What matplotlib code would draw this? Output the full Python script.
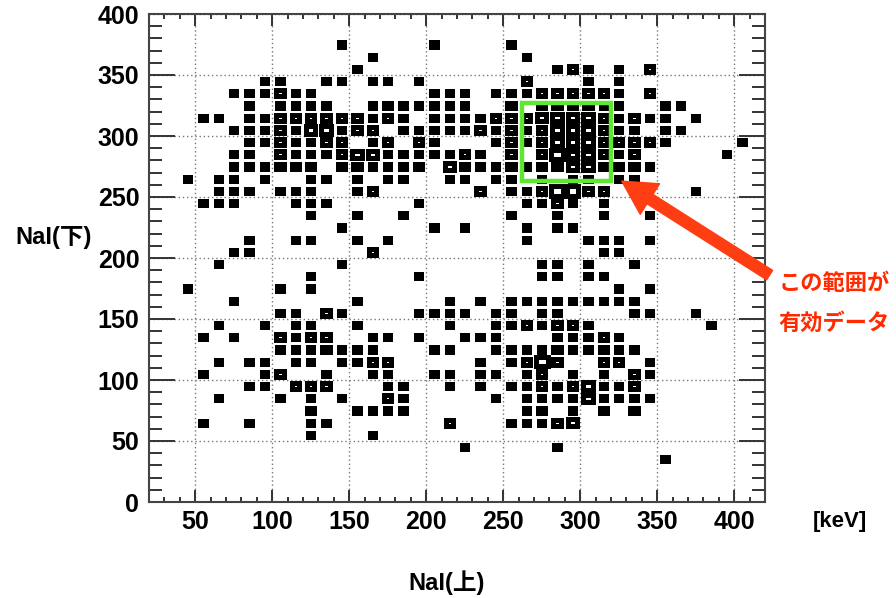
import numpy as np
import matplotlib.pyplot as plt
from matplotlib.patches import Rectangle

plt.rcParams['font.family'] = ['Liberation Sans', 'Noto Sans CJK JP']
plt.rcParams['font.weight'] = 'bold'

# bin centres (keV) of NaI(upper) hits, one row per NaI(lower) bin; repeats = count
row_y = [375, 365, 355, 345, 335, 325, 315, 305, 295, 285, 275, 265, 255, 245,
         235, 225, 215, 205, 195, 185, 175, 165, 155, 145, 135, 125, 115, 105,
         95, 85, 75, 65, 55, 45, 35]
row_x = [
    [145, 205, 255],
    [165, 265],
    [155, 285, 295, 295, 305, 325, 345, 345],
    [95, 105, 135, 145, 165, 175, 195, 265, 265, 305, 325],
    [75, 85, 95, 105, 105, 115, 125, 205, 215, 225, 245, 255, 265, 275, 275, 285, 285,
     295, 295, 305, 305, 315, 315, 325, 345, 345],
    [85, 105, 115, 125, 135, 165, 175, 175, 185, 195, 205, 215, 225, 255, 255, 275, 275,
     285, 285, 295, 295, 305, 305, 315, 325, 355, 365],
    [55, 65, 85, 95, 105, 105, 115, 115, 125, 125, 135, 135, 145, 145, 155, 155, 165,
     175, 175, 185, 205, 215, 225, 235, 245, 245, 255, 255, 265, 265, 275, 275, 275,
     285, 285, 285, 295, 295, 295, 305, 305, 305, 315, 315, 325, 335, 335, 345, 355, 375],
    [75, 85, 95, 105, 105, 115, 125, 125, 125, 135, 135, 135, 145, 155, 155, 165, 165,
     185, 195, 205, 215, 225, 235, 235, 245, 255, 255, 265, 275, 275, 285, 285, 285,
     295, 295, 295, 305, 305, 305, 315, 315, 325, 335, 355, 365],
    [85, 95, 105, 105, 115, 125, 135, 135, 145, 145, 165, 175, 175, 195, 195, 205, 245,
     255, 255, 265, 275, 275, 285, 285, 285, 295, 295, 295, 305, 305, 305, 315, 315,
     325, 325, 335, 335, 345, 345, 355, 405],
    [75, 85, 105, 105, 115, 125, 135, 145, 145, 155, 155, 155, 165, 165, 165, 175, 185,
     195, 205, 215, 225, 225, 235, 255, 255, 275, 275, 285, 285, 285, 285, 295, 295,
     295, 305, 305, 305, 315, 315, 325, 335, 335, 395],
    [75, 85, 95, 105, 105, 115, 115, 125, 125, 145, 145, 155, 155, 165, 175, 185, 195,
     195, 215, 215, 215, 225, 225, 235, 245, 255, 255, 265, 275, 275, 285, 285, 295,
     295, 295, 305, 305, 305, 315, 315, 325, 325, 335, 335, 345],
    [45, 65, 75, 95, 125, 135, 155, 175, 185, 215, 225, 245, 255, 275, 295, 305, 325, 335],
    [65, 75, 85, 105, 115, 125, 155, 165, 165, 235, 235, 255, 265, 275, 275, 285, 285,
     285, 285, 295, 295, 295, 295, 305, 305, 315, 315, 375],
    [55, 65, 75, 115, 125, 135, 195, 265, 275, 285, 285, 295, 315],
    [125, 155, 185, 255, 285, 315, 345],
    [145, 205, 225, 265, 285, 295],
    [85, 115, 125, 155, 175, 265, 305, 315, 325, 345],
    [75, 85, 165, 165, 315, 325],
    [65, 145, 275, 285, 305, 335],
    [125, 195, 275, 285, 305, 315],
    [45, 105, 125, 325, 345],
    [75, 155, 215, 235, 255, 265, 275, 285, 295, 305, 315, 325, 335],
    [105, 115, 135, 135, 145, 195, 205, 215, 225, 245, 255, 275, 285, 335, 345, 375],
    [65, 95, 115, 125, 155, 215, 245, 255, 265, 265, 275, 285, 285, 295, 295, 305, 385],
    [55, 75, 105, 105, 115, 125, 125, 135, 135, 165, 175, 195, 225, 235, 245, 285, 295,
     305, 315, 315, 325],
    [105, 115, 125, 135, 135, 145, 155, 165, 205, 215, 245, 255, 265, 275, 285, 285,
     295, 305, 315, 315, 325, 335],
    [65, 85, 95, 115, 125, 145, 155, 165, 165, 175, 175, 235, 255, 265, 265, 275, 275,
     275, 275, 285, 285, 315, 315, 325, 325, 345],
    [55, 95, 105, 105, 135, 165, 175, 205, 215, 235, 245, 265, 275, 275, 295, 315, 335,
     335, 345],
    [85, 95, 115, 115, 125, 125, 135, 135, 175, 185, 215, 235, 255, 265, 275, 275, 285,
     295, 295, 305, 305, 305, 315, 325, 335, 335],
    [65, 105, 125, 145, 175, 175, 185, 245, 265, 275, 285, 295, 305, 305, 305, 315, 325,
     335, 345],
    [125, 125, 155, 165, 175, 185, 265, 275, 275, 295, 315, 315, 335, 335],
    [55, 85, 125, 135, 215, 215, 255, 265, 275, 285, 285, 295, 295, 295],
    [125, 165],
    [225, 285],
    [355],
]

x_edges = np.arange(20, 421, 10)
y_edges = np.arange(0, 401, 10)
ev_x = np.concatenate([np.array(r, float) for r in row_x])
ev_y = np.concatenate([np.full(len(r), y, float) for r, y in zip(row_x, row_y)])
counts, _, _ = np.histogram2d(ev_x, ev_y, bins=[x_edges, y_edges])

fig = plt.figure(figsize=(8.96, 5.98), dpi=100)
ax = fig.add_axes([149 / 896, 1 - 502 / 598, 616 / 896, 488 / 598])
ax.set_xlim(20, 420)
ax.set_ylim(0, 400)

# ROOT-like "box" drawing
for i, j in zip(*np.nonzero(counts)):
    c = counts[i, j]
    f = 0.2 + 0.14 * c
    cx = (x_edges[i] + x_edges[i + 1]) / 2
    cy = (y_edges[j] + y_edges[j + 1]) / 2
    ax.add_patch(Rectangle((cx - f * 5, cy - f * 5), f * 10, f * 10,
                           facecolor='black' if c == 1 else 'white',
                           edgecolor='black', lw=3.6, joinstyle='miter', zorder=3))

# selected region
ax.add_patch(Rectangle((262, 263), 58, 64, fill=False, edgecolor='#5fe632',
                       lw=3.2, zorder=4))
ax.annotate('', xy=(327, 263), xytext=(423, 186),
            arrowprops=dict(arrowstyle='simple,head_width=2.6,head_length=2.4,tail_width=0.8',
                            color='#ff3d12', mutation_scale=10, shrinkA=0, shrinkB=0),
            annotation_clip=False, zorder=5)

ax.set_xticks(np.arange(50, 401, 50))
ax.set_xticks(np.arange(20, 421, 10), minor=True)
ax.set_yticks(np.arange(0, 401, 50))
ax.set_yticks(np.arange(0, 401, 10), minor=True)
ax.grid(True, which='major', linestyle=(0, (1, 2)), color='#777777', lw=1)
ax.set_axisbelow(True)
ax.tick_params(which='both', direction='in', top=True, right=True, width=1.4,
               color='#333333', labelsize=18)
ax.tick_params(axis='x', which='major', length=8.6, pad=6)
ax.tick_params(axis='x', which='minor', length=3.6)
ax.tick_params(axis='y', which='major', length=18.7, pad=7)
ax.tick_params(axis='y', which='minor', length=9.4)
for sp in ax.spines.values():
    sp.set_linewidth(1.5)
    sp.set_color('#444444')

fig.text(54 / 896, 1 - 237 / 598, 'NaI(下)', ha='center', va='center', fontsize=17)
fig.text(447 / 896, 1 - 583 / 598, 'NaI(上)', ha='center', va='center', fontsize=17)
fig.text(840 / 896, 1 - 521 / 598, '[keV]', ha='center', va='center', fontsize=16)
fig.text(834 / 896, 1 - 283 / 598, 'この範囲が', ha='center', va='center', fontsize=16,
         color='#ff2a00', family=['Noto Sans CJK JP'])
fig.text(834 / 896, 1 - 323 / 598, '有効データ', ha='center', va='center', fontsize=16,
         color='#ff2a00', family=['Noto Sans CJK JP'])

fig.savefig('out.png', dpi=100)
